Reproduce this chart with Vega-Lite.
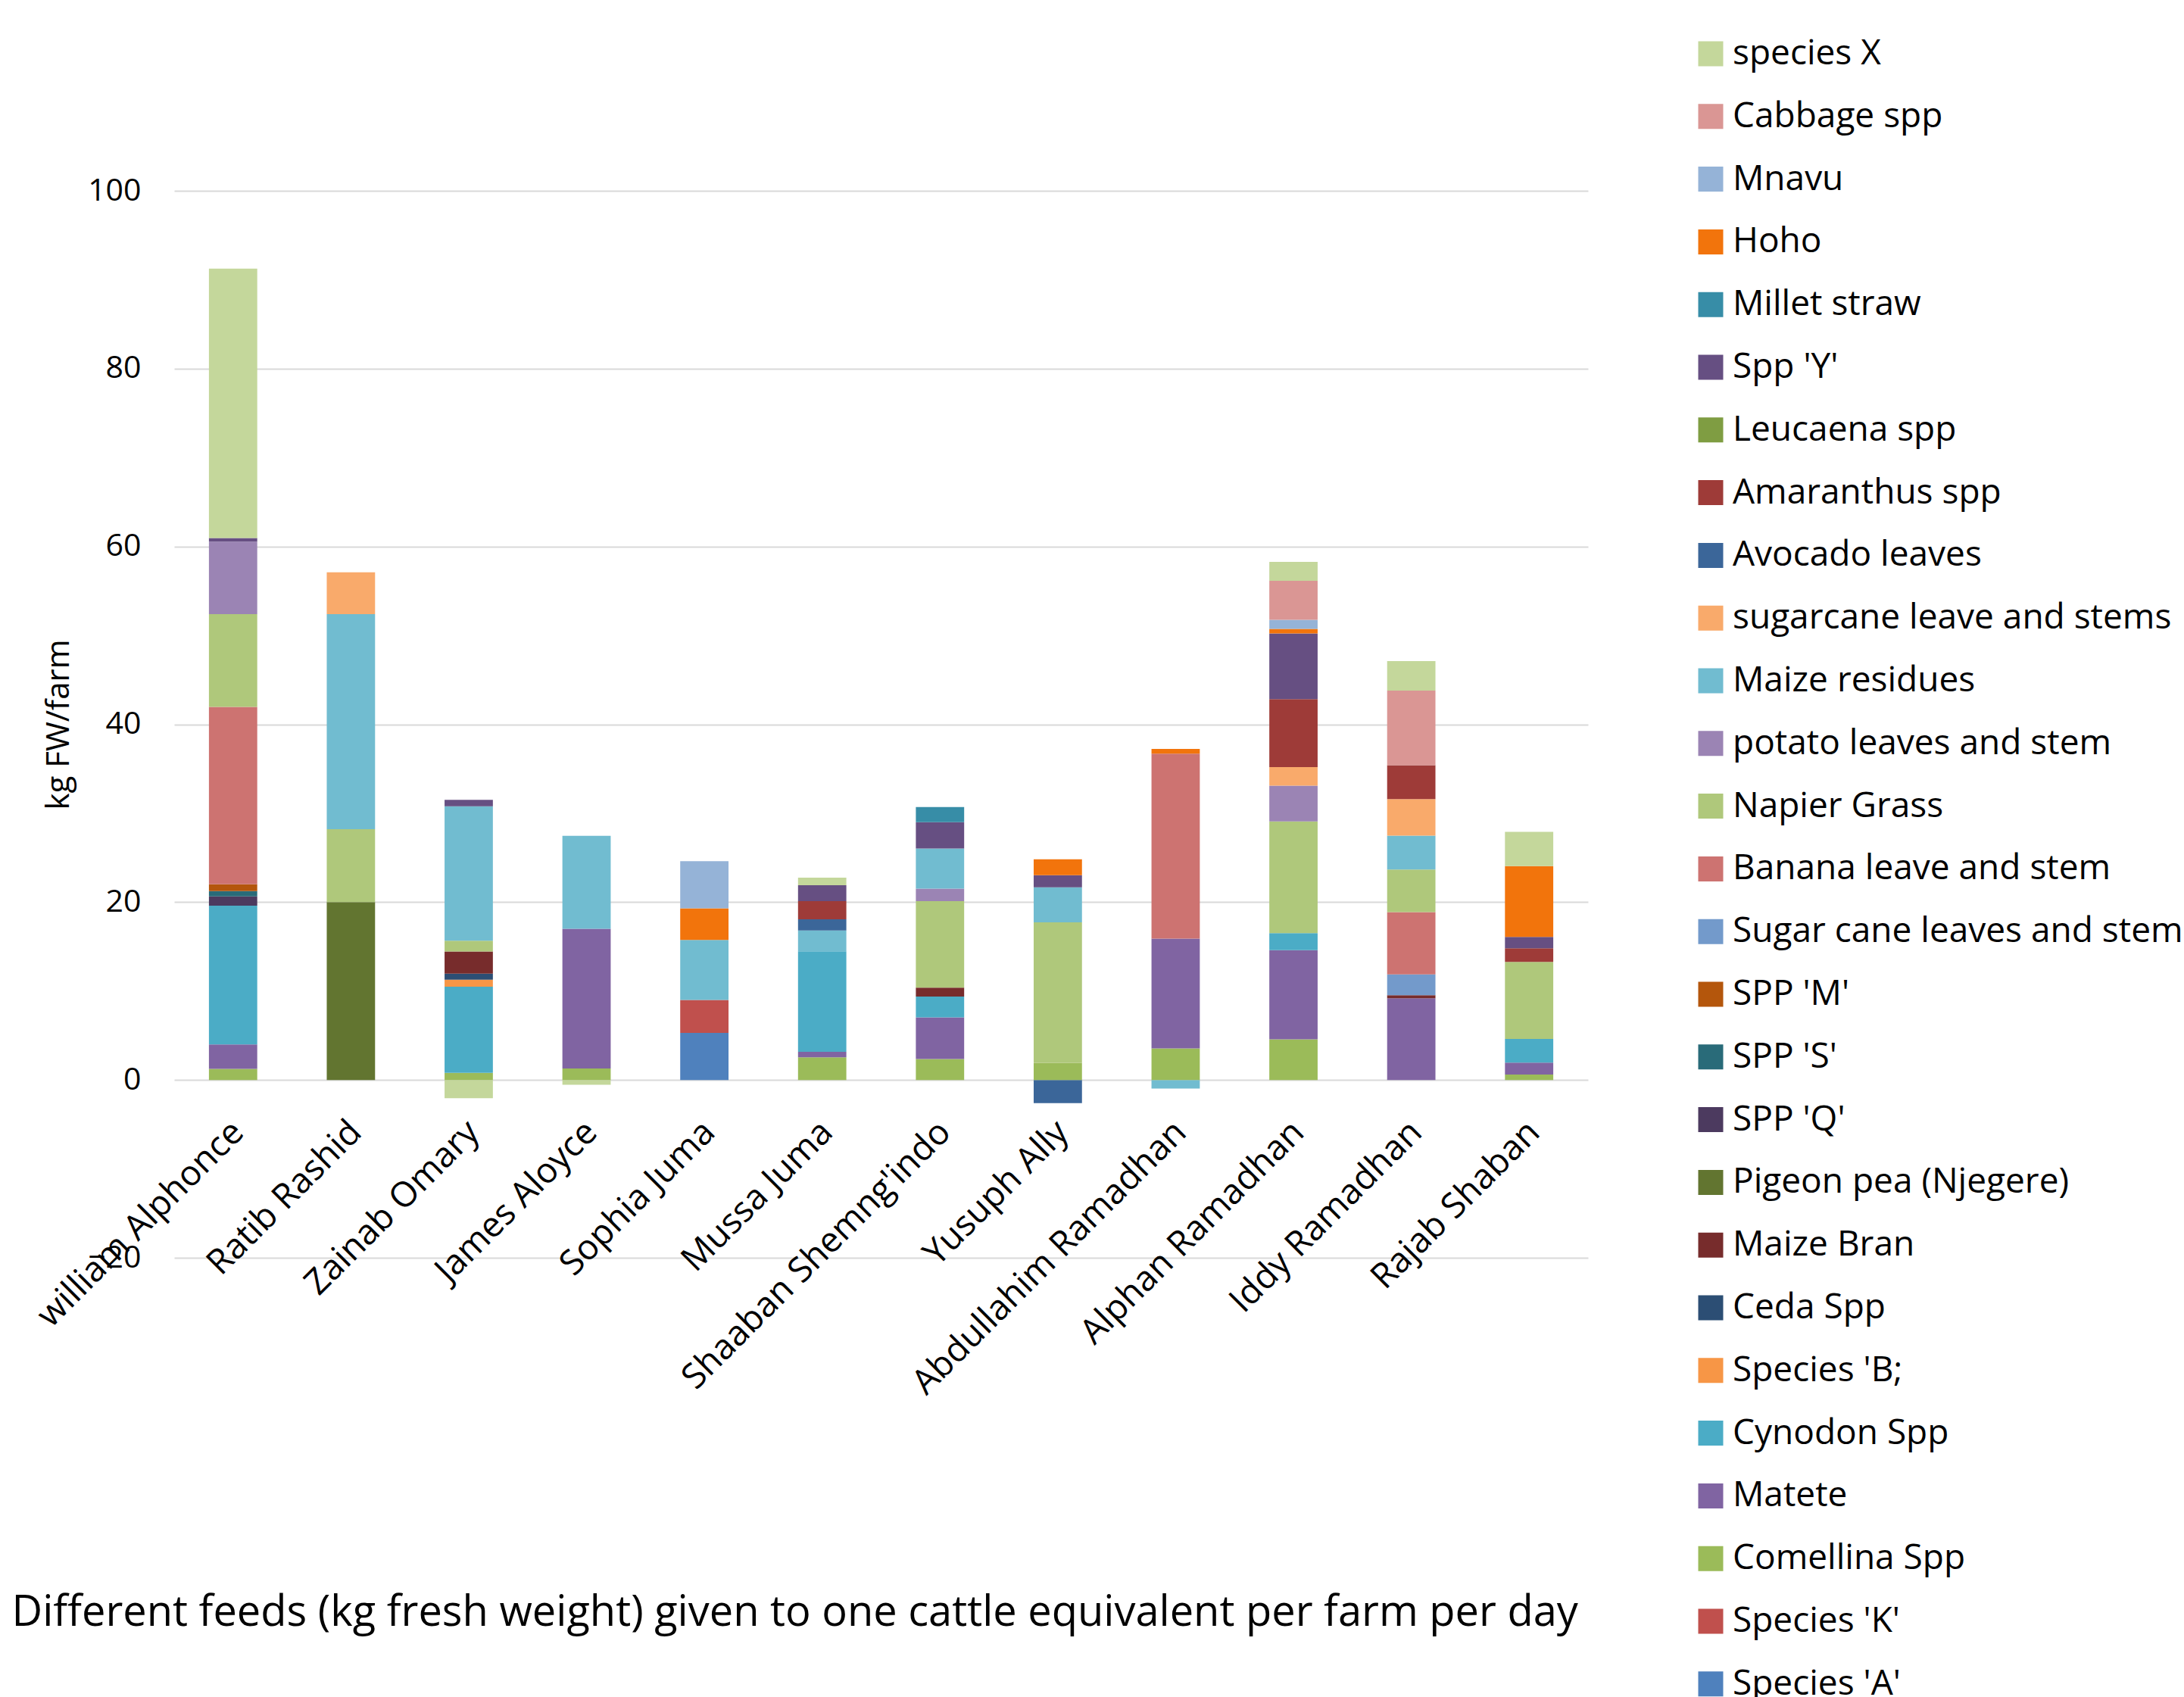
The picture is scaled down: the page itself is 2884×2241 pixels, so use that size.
{
  "$schema": "https://vega.github.io/schema/vega-lite/v6.json",
  "width": 1867,
  "height": 1409,
  "autosize": {"type": "none"},
  "padding": {"left": 230, "top": 252, "right": 787, "bottom": 580},
  "background": "white",
  "data": {
    "values": [
      {"farm": "william Alphonce", "feed": "Comellina Spp", "kg": 1.25},
      {"farm": "william Alphonce", "feed": "Matete", "kg": 2.75},
      {"farm": "william Alphonce", "feed": "Cynodon Spp", "kg": 15.6},
      {"farm": "william Alphonce", "feed": "SPP 'Q'", "kg": 1.05},
      {"farm": "william Alphonce", "feed": "SPP 'S'", "kg": 0.6},
      {"farm": "william Alphonce", "feed": "SPP 'M'", "kg": 0.75},
      {"farm": "william Alphonce", "feed": "Banana leave and stem", "kg": 19.95},
      {"farm": "william Alphonce", "feed": "Napier Grass", "kg": 10.45},
      {"farm": "william Alphonce", "feed": "potato leaves and stem", "kg": 8.15},
      {"farm": "william Alphonce", "feed": "Spp 'Y'", "kg": 0.4},
      {"farm": "william Alphonce", "feed": "species X", "kg": 30.3},
      {"farm": "Ratib Rashid", "feed": "Pigeon pea (Njegere)", "kg": 20.0},
      {"farm": "Ratib Rashid", "feed": "Napier Grass", "kg": 8.2},
      {"farm": "Ratib Rashid", "feed": "Maize residues", "kg": 24.2},
      {"farm": "Ratib Rashid", "feed": "sugarcane leave and stems", "kg": 4.7},
      {"farm": "Zainab Omary", "feed": "species X", "kg": -2.05},
      {"farm": "Zainab Omary", "feed": "Comellina Spp", "kg": 0.8},
      {"farm": "Zainab Omary", "feed": "Cynodon Spp", "kg": 9.7},
      {"farm": "Zainab Omary", "feed": "Species 'B;", "kg": 0.77},
      {"farm": "Zainab Omary", "feed": "Ceda Spp", "kg": 0.68},
      {"farm": "Zainab Omary", "feed": "Maize Bran", "kg": 2.5},
      {"farm": "Zainab Omary", "feed": "Napier Grass", "kg": 1.22},
      {"farm": "Zainab Omary", "feed": "Maize residues", "kg": 15.12},
      {"farm": "Zainab Omary", "feed": "Spp 'Y'", "kg": 0.71},
      {"farm": "James Aloyce", "feed": "species X", "kg": -0.55},
      {"farm": "James Aloyce", "feed": "Comellina Spp", "kg": 1.3},
      {"farm": "James Aloyce", "feed": "Matete", "kg": 15.7},
      {"farm": "James Aloyce", "feed": "Maize residues", "kg": 10.45},
      {"farm": "Sophia Juma", "feed": "Species 'A'", "kg": 5.3},
      {"farm": "Sophia Juma", "feed": "Species 'K'", "kg": 3.7},
      {"farm": "Sophia Juma", "feed": "Maize residues", "kg": 6.75},
      {"farm": "Sophia Juma", "feed": "Hoho", "kg": 3.55},
      {"farm": "Sophia Juma", "feed": "Mnavu", "kg": 5.3},
      {"farm": "Mussa Juma", "feed": "Comellina Spp", "kg": 2.55},
      {"farm": "Mussa Juma", "feed": "Matete", "kg": 0.62},
      {"farm": "Mussa Juma", "feed": "Cynodon Spp", "kg": 11.3},
      {"farm": "Mussa Juma", "feed": "Maize residues", "kg": 2.35},
      {"farm": "Mussa Juma", "feed": "Avocado leaves", "kg": 1.25},
      {"farm": "Mussa Juma", "feed": "Amaranthus spp", "kg": 2.05},
      {"farm": "Mussa Juma", "feed": "Spp 'Y'", "kg": 1.78},
      {"farm": "Mussa Juma", "feed": "species X", "kg": 0.85},
      {"farm": "Shaaban Shemng'indo", "feed": "Comellina Spp", "kg": 2.35},
      {"farm": "Shaaban Shemng'indo", "feed": "Matete", "kg": 4.7},
      {"farm": "Shaaban Shemng'indo", "feed": "Cynodon Spp", "kg": 2.33},
      {"farm": "Shaaban Shemng'indo", "feed": "Maize Bran", "kg": 1.0},
      {"farm": "Shaaban Shemng'indo", "feed": "Napier Grass", "kg": 9.73},
      {"farm": "Shaaban Shemng'indo", "feed": "potato leaves and stem", "kg": 1.4},
      {"farm": "Shaaban Shemng'indo", "feed": "Maize residues", "kg": 4.53},
      {"farm": "Shaaban Shemng'indo", "feed": "Spp 'Y'", "kg": 2.95},
      {"farm": "Shaaban Shemng'indo", "feed": "Millet straw", "kg": 1.7},
      {"farm": "Yusuph Ally", "feed": "Avocado leaves", "kg": -2.6},
      {"farm": "Yusuph Ally", "feed": "Comellina Spp", "kg": 1.93},
      {"farm": "Yusuph Ally", "feed": "Napier Grass", "kg": 15.8},
      {"farm": "Yusuph Ally", "feed": "Maize residues", "kg": 3.94},
      {"farm": "Yusuph Ally", "feed": "Spp 'Y'", "kg": 1.37},
      {"farm": "Yusuph Ally", "feed": "Hoho", "kg": 1.78},
      {"farm": "Abdullahim Ramadhan", "feed": "Maize residues", "kg": -0.97},
      {"farm": "Abdullahim Ramadhan", "feed": "Comellina Spp", "kg": 3.55},
      {"farm": "Abdullahim Ramadhan", "feed": "Matete", "kg": 12.34},
      {"farm": "Abdullahim Ramadhan", "feed": "Banana leave and stem", "kg": 20.82},
      {"farm": "Abdullahim Ramadhan", "feed": "Hoho", "kg": 0.53},
      {"farm": "Alphan Ramadhan", "feed": "Comellina Spp", "kg": 4.57},
      {"farm": "Alphan Ramadhan", "feed": "Matete", "kg": 10.02},
      {"farm": "Alphan Ramadhan", "feed": "Cynodon Spp", "kg": 1.93},
      {"farm": "Alphan Ramadhan", "feed": "Napier Grass", "kg": 12.56},
      {"farm": "Alphan Ramadhan", "feed": "potato leaves and stem", "kg": 4.03},
      {"farm": "Alphan Ramadhan", "feed": "sugarcane leave and stems", "kg": 2.07},
      {"farm": "Alphan Ramadhan", "feed": "Amaranthus spp", "kg": 7.65},
      {"farm": "Alphan Ramadhan", "feed": "Spp 'Y'", "kg": 7.38},
      {"farm": "Alphan Ramadhan", "feed": "Hoho", "kg": 0.53},
      {"farm": "Alphan Ramadhan", "feed": "Mnavu", "kg": 1.02},
      {"farm": "Alphan Ramadhan", "feed": "Cabbage spp", "kg": 4.38},
      {"farm": "Alphan Ramadhan", "feed": "species X", "kg": 2.12},
      {"farm": "Iddy Ramadhan", "feed": "Matete", "kg": 9.2},
      {"farm": "Iddy Ramadhan", "feed": "Maize Bran", "kg": 0.33},
      {"farm": "Iddy Ramadhan", "feed": "Sugar cane leaves and stem", "kg": 2.35},
      {"farm": "Iddy Ramadhan", "feed": "Banana leave and stem", "kg": 7.0},
      {"farm": "Iddy Ramadhan", "feed": "Napier Grass", "kg": 4.78},
      {"farm": "Iddy Ramadhan", "feed": "Maize residues", "kg": 3.83},
      {"farm": "Iddy Ramadhan", "feed": "sugarcane leave and stems", "kg": 4.09},
      {"farm": "Iddy Ramadhan", "feed": "Amaranthus spp", "kg": 3.83},
      {"farm": "Iddy Ramadhan", "feed": "Cabbage spp", "kg": 8.37},
      {"farm": "Iddy Ramadhan", "feed": "species X", "kg": 3.34},
      {"farm": "Rajab Shaban", "feed": "Comellina Spp", "kg": 0.6},
      {"farm": "Rajab Shaban", "feed": "Matete", "kg": 1.36},
      {"farm": "Rajab Shaban", "feed": "Cynodon Spp", "kg": 2.66},
      {"farm": "Rajab Shaban", "feed": "Napier Grass", "kg": 8.66},
      {"farm": "Rajab Shaban", "feed": "Amaranthus spp", "kg": 1.53},
      {"farm": "Rajab Shaban", "feed": "Spp 'Y'", "kg": 1.28},
      {"farm": "Rajab Shaban", "feed": "Hoho", "kg": 7.97},
      {"farm": "Rajab Shaban", "feed": "species X", "kg": 3.85}
    ]
  },
  "mark": {"type": "bar"},
  "encoding": {
    "x": {
      "field": "farm",
      "type": "nominal",
      "sort": ["william Alphonce", "Ratib Rashid", "Zainab Omary", "James Aloyce", "Sophia Juma", "Mussa Juma", "Shaaban Shemng'indo", "Yusuph Ally", "Abdullahim Ramadhan", "Alphan Ramadhan", "Iddy Ramadhan", "Rajab Shaban"],
      "scale": {"paddingInner": 0.59, "paddingOuter": 0.295},
      "axis": {
        "title": "Different feeds (kg fresh weight) given to one cattle equivalent per farm per day",
        "titleFont": "Open Sans",
        "titleFontSize": 56,
        "titleFontWeight": "normal",
        "titleColor": "#000000",
        "titleX": -215,
        "titleY": 702,
        "titleAlign": "left",
        "titleBaseline": "middle",
        "offset": -234,
        "domain": false,
        "ticks": false,
        "labelAngle": -45,
        "labelFont": "Open Sans",
        "labelFontSize": 46,
        "labelColor": "#000000",
        "labelPadding": 45,
        "labelOffset": -9,
        "labelLimit": 0
      }
    },
    "y": {
      "field": "kg",
      "type": "quantitative",
      "stack": "zero",
      "scale": {"domain": [-20, 100], "nice": false},
      "axis": {
        "title": "kg FW/farm",
        "titleFont": "Open Sans",
        "titleFontSize": 42,
        "titleFontWeight": "normal",
        "titleColor": "#000000",
        "titlePadding": 16,
        "values": [-20, 0, 20, 40, 60, 80, 100],
        "domain": false,
        "ticks": false,
        "labelFont": "Open Sans",
        "labelFontSize": 41,
        "labelColor": "#000000",
        "labelPadding": 44,
        "grid": true,
        "gridColor": "#D9D9D9",
        "gridWidth": 2
      }
    },
    "order": {"field": "farm"},
    "color": {
      "field": "feed",
      "type": "nominal",
      "sort": ["species X", "Cabbage spp", "Mnavu", "Hoho", "Millet straw", "Spp 'Y'", "Leucaena spp", "Amaranthus spp", "Avocado leaves", "sugarcane leave and stems", "Maize residues", "potato leaves and stem", "Napier Grass", "Banana leave and stem", "Sugar cane leaves and stem", "SPP 'M'", "SPP 'S'", "SPP 'Q'", "Pigeon pea (Njegere)", "Maize Bran", "Ceda Spp", "Species 'B;", "Cynodon Spp", "Matete", "Comellina Spp", "Species 'K'", "Species 'A'"],
      "scale": {
        "domain": ["species X", "Cabbage spp", "Mnavu", "Hoho", "Millet straw", "Spp 'Y'", "Leucaena spp", "Amaranthus spp", "Avocado leaves", "sugarcane leave and stems", "Maize residues", "potato leaves and stem", "Napier Grass", "Banana leave and stem", "Sugar cane leaves and stem", "SPP 'M'", "SPP 'S'", "SPP 'Q'", "Pigeon pea (Njegere)", "Maize Bran", "Ceda Spp", "Species 'B;", "Cynodon Spp", "Matete", "Comellina Spp", "Species 'K'", "Species 'A'"],
        "range": ["#C4D79B", "#DA9694", "#95B3D7", "#F2740C", "#378DA7", "#664F82", "#7F9D42", "#9E3B38", "#3B6699", "#F9AA6B", "#71BCD0", "#9B84B4", "#AFC87B", "#CD7371", "#739ACB", "#B4560C", "#296B79", "#4C3A5F", "#627530", "#772C2C", "#2C4E74", "#F79646", "#4BACC6", "#8064A2", "#9BBB59", "#C0504D", "#4F81BD"]
      },
      "legend": {
        "title": null,
        "orient": "none",
        "legendX": 2006,
        "legendY": -204,
        "symbolType": "square",
        "symbolSize": 1089,
        "symbolStrokeWidth": 0,
        "labelFont": "Open Sans",
        "labelFontSize": 46,
        "labelColor": "#000000",
        "labelOffset": 6,
        "labelLimit": 0,
        "rowPadding": 36.8
      }
    }
  },
  "config": {
    "view": {"stroke": null}
  }
}
